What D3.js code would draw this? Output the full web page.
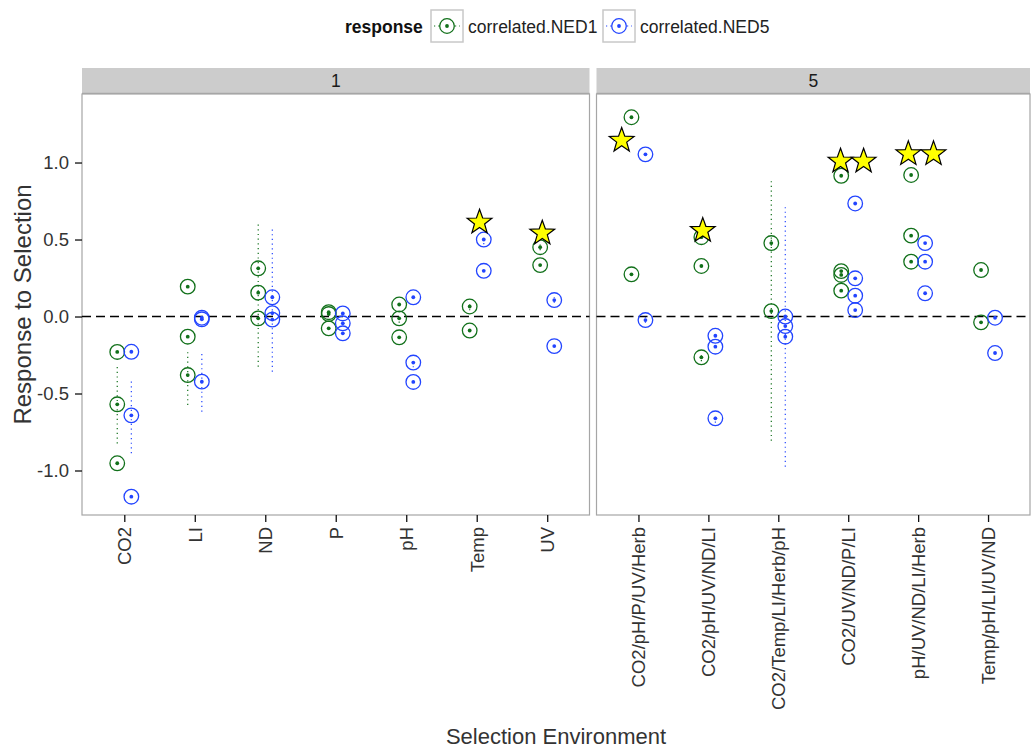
<!DOCTYPE html>
<html>
<head>
<meta charset="utf-8">
<script src="https://cdn.jsdelivr.net/npm/d3@7"></script>
<style>
  body { margin: 0; background: #fff; }
  text { font-family: "Liberation Sans", Arial, sans-serif; }
</style>
</head>
<body>
<div id="chart"></div>
<script>
// facets and their selection environments
const facets = ["1", "5"];
const envs1 = ["CO2", "LI", "ND", "P", "pH", "Temp", "UV"];
const envs5 = ["CO2/pH/P/UV/Herb", "CO2/pH/UV/ND/LI", "CO2/Temp/LI/Herb/pH",
               "CO2/UV/ND/P/LI", "pH/UV/ND/LI/Herb", "Temp/pH/LI/UV/ND"];
const seriesNames = ["correlated.NED1", "correlated.NED5"];
const yTicks = [-1.0, -0.5, 0.0, 0.5, 1.0];

// [facet, env, value, lo, hi]
const ned1 = [
  ["1", "CO2", -0.23], ["1", "CO2", -0.57, -0.824, -0.326], ["1", "CO2", -0.953],
  ["1", "LI", 0.194], ["1", "LI", -0.131], ["1", "LI", -0.38, -0.575, -0.229],
  ["1", "ND", 0.313], ["1", "ND", 0.155, -0.326, 0.605], ["1", "ND", -0.012],
  ["1", "P", 0.028], ["1", "P", 0.016], ["1", "P", -0.077],
  ["1", "pH", 0.078], ["1", "pH", -0.012, -0.04, 0.02], ["1", "pH", -0.135],
  ["1", "Temp", 0.065, 0.04, 0.09], ["1", "Temp", -0.091],
  ["1", "UV", 0.45, 0.43, 0.47], ["1", "UV", 0.334],
  ["5", "CO2/pH/P/UV/Herb", 1.294], ["5", "CO2/pH/P/UV/Herb", 0.274],
  ["5", "CO2/pH/UV/ND/LI", 0.515], ["5", "CO2/pH/UV/ND/LI", 0.328], ["5", "CO2/pH/UV/ND/LI", -0.265, -0.29, -0.24],
  ["5", "CO2/Temp/LI/Herb/pH", 0.477, 0.46, 0.50], ["5", "CO2/Temp/LI/Herb/pH", 0.035, -0.807, 0.879],
  ["5", "CO2/UV/ND/P/LI", 0.914], ["5", "CO2/UV/ND/P/LI", 0.295], ["5", "CO2/UV/ND/P/LI", 0.27], ["5", "CO2/UV/ND/P/LI", 0.168],
  ["5", "pH/UV/ND/LI/Herb", 0.919], ["5", "pH/UV/ND/LI/Herb", 0.525], ["5", "pH/UV/ND/LI/Herb", 0.356],
  ["5", "Temp/pH/LI/UV/ND", 0.302], ["5", "Temp/pH/LI/UV/ND", -0.038]
];

const ned5 = [
  ["1", "CO2", -0.229], ["1", "CO2", -0.642, -0.888, -0.401], ["1", "CO2", -1.17],
  ["1", "LI", -0.008], ["1", "LI", -0.018], ["1", "LI", -0.423, -0.618, -0.229],
  ["1", "ND", 0.125, -0.358, 0.573], ["1", "ND", 0.022], ["1", "ND", -0.02],
  ["1", "P", 0.02], ["1", "P", -0.044], ["1", "P", -0.109],
  ["1", "pH", 0.125], ["1", "pH", -0.299, -0.33, -0.27], ["1", "pH", -0.425],
  ["1", "Temp", 0.5, 0.47, 0.53], ["1", "Temp", 0.297],
  ["1", "UV", 0.107, 0.09, 0.125], ["1", "UV", -0.192],
  ["5", "CO2/pH/P/UV/Herb", 1.053], ["5", "CO2/pH/P/UV/Herb", -0.023, -0.04, -0.005],
  ["5", "CO2/pH/UV/ND/LI", -0.125], ["5", "CO2/pH/UV/ND/LI", -0.196], ["5", "CO2/pH/UV/ND/LI", -0.661, -0.69, -0.63],
  ["5", "CO2/Temp/LI/Herb/pH", 0.0], ["5", "CO2/Temp/LI/Herb/pH", -0.062], ["5", "CO2/Temp/LI/Herb/pH", -0.131, -0.975, 0.71],
  ["5", "CO2/UV/ND/P/LI", 0.734], ["5", "CO2/UV/ND/P/LI", 0.248], ["5", "CO2/UV/ND/P/LI", 0.135], ["5", "CO2/UV/ND/P/LI", 0.042],
  ["5", "pH/UV/ND/LI/Herb", 0.477], ["5", "pH/UV/ND/LI/Herb", 0.356], ["5", "pH/UV/ND/LI/Herb", 0.151],
  ["5", "Temp/pH/LI/UV/ND", -0.008], ["5", "Temp/pH/LI/UV/ND", -0.237]
];

// significant responses: [facet, env, x offset (category units), value]
const stars = [
  ["1", "Temp", 0.04, 0.612], ["1", "UV", -0.07, 0.541],
  ["5", "CO2/pH/P/UV/Herb", -0.24, 1.143], ["5", "CO2/pH/UV/ND/LI", -0.08, 0.558],
  ["5", "CO2/UV/ND/P/LI", -0.11, 1.008], ["5", "CO2/UV/ND/P/LI", 0.22, 1.008],
  ["5", "pH/UV/ND/LI/Herb", -0.14, 1.056], ["5", "pH/UV/ND/LI/Herb", 0.22, 1.056]
];

const colors = { "correlated.NED1": "#11701a", "correlated.NED5": "#2244ff" };
const dodge = { "correlated.NED1": -0.1, "correlated.NED5": 0.1 };

const W = 1034, H = 749;
const panelTop = 94, panelBottom = 515, stripH = 26;
const panels = [
  { facet: "1", envs: envs1, x0: 82, x1: 589.5 },
  { facet: "5", envs: envs5, x0: 596.5, x1: 1030 }
];

const svg = d3.select("#chart").append("svg")
  .attr("width", W).attr("height", H);

const y = d3.scaleLinear()
  .domain([-1.289, 1.445])
  .range([panelBottom, panelTop]);

// star path
function starPath(R, r) {
  const pts = [];
  for (let i = 0; i < 10; i++) {
    const a = -Math.PI / 2 + i * Math.PI / 5;
    const rad = i % 2 === 0 ? R : r;
    pts.push([rad * Math.cos(a), rad * Math.sin(a)]);
  }
  return "M" + pts.map(p => p.join(",")).join("L") + "Z";
}

const allData = [
  ...ned1.map(d => ({ series: "correlated.NED1", facet: d[0], env: d[1], value: d[2], lo: d[3], hi: d[4] })),
  ...ned5.map(d => ({ series: "correlated.NED5", facet: d[0], env: d[1], value: d[2], lo: d[3], hi: d[4] }))
];

panels.forEach(p => {
  const x = d3.scalePoint().domain(p.envs).range([p.x0, p.x1]).padding(0.6);
  const step = x.step();
  const px = (env, off) => x(env) + off * step;
  const g = svg.append("g");

  // strip
  g.append("rect")
    .attr("x", p.x0).attr("y", panelTop - stripH)
    .attr("width", p.x1 - p.x0).attr("height", stripH)
    .attr("fill", "#cccccc");
  g.append("line")
    .attr("x1", p.x0).attr("x2", p.x1)
    .attr("y1", panelTop - 0.5).attr("y2", panelTop - 0.5)
    .attr("stroke", "#a6a6a6").attr("stroke-width", 1.5);
  g.append("text")
    .attr("x", (p.x0 + p.x1) / 2).attr("y", panelTop - stripH / 2)
    .attr("dy", "0.35em").attr("text-anchor", "middle")
    .style("font-size", "17.5px").attr("fill", "#1a1a1a")
    .text(p.facet);

  // panel border
  g.append("rect")
    .attr("x", p.x0).attr("y", panelTop)
    .attr("width", p.x1 - p.x0).attr("height", panelBottom - panelTop)
    .attr("fill", "#fff").attr("stroke", "#a6a6a6").attr("stroke-width", 1.2);

  // zero line
  g.append("line")
    .attr("x1", p.x0).attr("x2", p.x1)
    .attr("y1", y(0)).attr("y2", y(0))
    .attr("stroke", "#000").attr("stroke-width", 1.6)
    .attr("stroke-dasharray", "9,5");

  // x axis
  const xAxis = g.append("g")
    .attr("transform", "translate(0," + panelBottom + ")")
    .call(d3.axisBottom(x).tickSize(7).tickPadding(5));
  xAxis.select(".domain").remove();
  xAxis.selectAll(".tick line").attr("stroke", "#111").attr("stroke-width", 1.3);
  xAxis.selectAll(".tick text")
    .attr("transform", "rotate(-90)")
    .attr("x", -12).attr("y", 0).attr("dy", "0.35em")
    .attr("text-anchor", "end")
    .style("font-size", "18.5px").attr("fill", "#333");

  const data = allData.filter(d => d.facet === p.facet);

  // error bars
  g.selectAll(".err")
    .data(data.filter(d => d.lo != null))
    .join("line")
    .attr("x1", d => px(d.env, dodge[d.series]))
    .attr("x2", d => px(d.env, dodge[d.series]))
    .attr("y1", d => y(d.lo)).attr("y2", d => y(d.hi))
    .attr("stroke", d => colors[d.series])
    .attr("stroke-width", 1.2)
    .attr("stroke-dasharray", "1.2,3.5");

  // rings
  g.selectAll(".ring")
    .data(data)
    .join("circle")
    .attr("cx", d => px(d.env, dodge[d.series]))
    .attr("cy", d => y(d.value))
    .attr("r", 7.3)
    .attr("fill", "none")
    .attr("stroke", d => colors[d.series])
    .attr("stroke-width", 1.3);

  // centre dots
  g.selectAll(".dot")
    .data(data)
    .join("circle")
    .attr("cx", d => px(d.env, dodge[d.series]))
    .attr("cy", d => y(d.value))
    .attr("r", 1.9)
    .attr("fill", d => colors[d.series]);

  // stars
  g.selectAll(".star")
    .data(stars.filter(s => s[0] === p.facet))
    .join("path")
    .attr("d", starPath(13, 5.3))
    .attr("transform", d => "translate(" + px(d[1], d[2]) + "," + y(d[3]) + ")")
    .attr("fill", "#ffff00")
    .attr("stroke", "#000")
    .attr("stroke-width", 1.2);

  // y axis on first panel
  if (p.facet === "1") {
    const yAxis = g.append("g")
      .attr("transform", "translate(" + p.x0 + ",0)")
      .call(d3.axisLeft(y).tickValues(yTicks).tickSize(7).tickPadding(6)
        .tickFormat(d => d.toFixed(1)));
    yAxis.select(".domain").remove();
    yAxis.selectAll(".tick line").attr("stroke", "#111").attr("stroke-width", 1.3);
    yAxis.selectAll(".tick text").style("font-size", "18.5px").attr("fill", "#333");
  }
});

// axis titles
svg.append("text")
  .attr("x", (82 + 1030) / 2).attr("y", 744)
  .attr("text-anchor", "middle")
  .style("font-size", "22px").attr("fill", "#333")
  .text("Selection Environment");

svg.append("text")
  .attr("transform", "translate(31," + (panelTop + panelBottom) / 2 + ") rotate(-90)")
  .attr("text-anchor", "middle")
  .style("font-size", "24px").attr("fill", "#333")
  .text("Response to Selection");

// legend
const legend = svg.append("g");
legend.append("text")
  .attr("x", 345).attr("y", 27).attr("dy", "0.35em")
  .style("font-size", "17.5px").style("font-weight", "bold").attr("fill", "#111")
  .text("response");

const keyX = [431, 603];
seriesNames.forEach((s, i) => {
  const kx = keyX[i], ky = 10, ks = 32;
  const k = legend.append("g");
  k.append("rect")
    .attr("x", kx).attr("y", ky).attr("width", ks).attr("height", ks)
    .attr("fill", "#fff").attr("stroke", "#c8c8c8").attr("stroke-width", 1.5);
  k.append("line")
    .attr("x1", kx + 3).attr("x2", kx + ks - 3)
    .attr("y1", ky + ks / 2).attr("y2", ky + ks / 2)
    .attr("stroke", colors[s]).attr("stroke-width", 1.2)
    .attr("stroke-dasharray", "1.2,3");
  k.append("circle")
    .attr("cx", kx + ks / 2).attr("cy", ky + ks / 2).attr("r", 7.3)
    .attr("fill", "#fff").attr("stroke", colors[s]).attr("stroke-width", 1.3);
  k.append("circle")
    .attr("cx", kx + ks / 2).attr("cy", ky + ks / 2).attr("r", 1.9)
    .attr("fill", colors[s]);
  k.append("text")
    .attr("x", kx + ks + 5).attr("y", 27).attr("dy", "0.35em")
    .style("font-size", "17.5px").attr("fill", "#222")
    .text(s);
});
</script>
</body>
</html>
